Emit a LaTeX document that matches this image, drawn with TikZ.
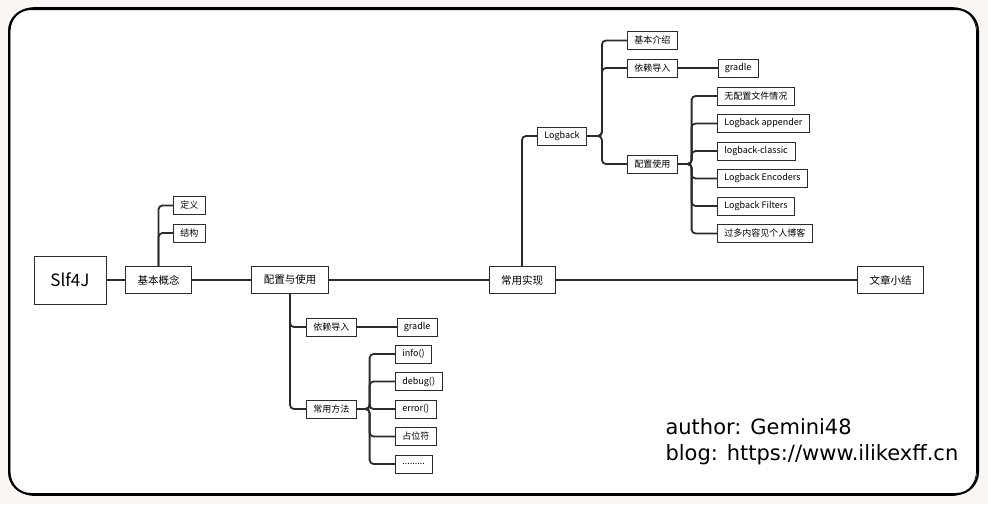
\documentclass[tikz,border=0pt]{standalone}
\usepackage{fontspec}
\setmainfont{Noto Sans CJK SC}
\newfontfamily\handfont{DejaVu Sans}
\usepackage{xcolor}
\usetikzlibrary{positioning}
\definecolor{paper}{HTML}{FAF6F4}
\definecolor{ink}{HTML}{2B2B2B}
\newcommand{\dotrow}{.........}

\begin{document}
\begin{tikzpicture}[x=1pt, y=-1pt,
  rbox/.style={rectangle, draw=ink, line width=1pt, fill=white, minimum width=72pt, minimum height=48pt, font=\fontsize{17}{20}\selectfont},
  mbox/.style={rectangle, draw=ink, line width=0.8pt, fill=white, minimum height=27pt, inner xsep=12pt, inner ysep=0pt, font=\fontsize{10.5}{12}\selectfont},
  sbox/.style={rectangle, draw=ink, line width=0.6pt, fill=white, minimum height=18pt, inner xsep=7pt, inner ysep=0pt, font=\fontsize{9}{10}\selectfont},
  conn/.style={draw=ink, line width=1.8pt, rounded corners=4pt},
  sig/.style={anchor=base west, font=\handfont\fontsize{21}{24}\selectfont}
]
% paper and frame
\fill[paper] (0,0) rectangle (988,504);
\fill[white, rounded corners=22pt] (9,9) rectangle (978,494);
\draw[line width=2pt, rounded corners=22pt] (9,9) rectangle (978,494);
\draw[line width=0.8pt, rounded corners=24pt] (10,7.5) rectangle (976.5,495.5);

% main row
\node[rbox] (root) at (70,280) {Slf4J};
\node[mbox] (a) at (158.5,280) {基本概念};
\node[mbox] (b) at (290,280) {配置与使用};
\node[mbox] (c) at (522,280) {常用实现};
\node[mbox] (d) at (890.5,280) {文章小结};
\draw[conn] (root) -- (a);
\draw[conn] (a) -- (b);
\draw[conn] (b) -- (c);
\draw[conn] (c) -- (d);

% 基本概念
\node[sbox, anchor=west] (a1) at (173,205.5) {定义};
\node[sbox, anchor=west] (a2) at (173,233) {结构};
\draw[conn] (a.north) |- (a1.west);
\draw[conn] (a.north) |- (a2.west);

% 配置与使用
\node[sbox, anchor=west] (b1) at (306,327) {依赖导入};
\node[sbox, right=40pt of b1] (b11) {gradle};
\node[sbox, anchor=west] (b2) at (306,409) {常用方法};
\draw[conn] (b.south) |- (b1.west);
\draw[conn] (b.south) |- (b2.west);
\draw[conn] (b1) -- (b11);
\foreach \name/\y/\txt in {m1/354/info(), m2/381.5/debug(), m3/409/error(), m4/436.5/占位符, m5/464/\dotrow}{
  \node[sbox, anchor=west] (\name) at (395,\y) {\txt};
  \draw[conn] (b2.east) -- ++(13,0) |- (\name.west);
}

% 常用实现
\node[sbox, anchor=west] (c1) at (537,136) {Logback};
\draw[conn] (c.north) |- (c1.west);
\node[sbox, anchor=west] (c11) at (627,40.5) {基本介绍};
\node[sbox, anchor=west] (c12) at (627,68) {依赖导入};
\node[sbox, right=40pt of c12] (c121) {gradle};
\node[sbox, anchor=west] (c13) at (627,164) {配置使用};
\foreach \name in {c11,c12,c13}{
  \draw[conn] (c1.east) -- ++(15,0) |- (\name.west);
}
\draw[conn] (c12) -- (c121);
\foreach \name/\y/\txt in {n1/96/无配置文件情况, n2/123.5/Logback appender, n3/151/logback-classic, n4/178.5/Logback Encoders, n5/206/Logback Filters, n6/233.5/过多内容见个人博客}{
  \node[sbox, anchor=west] (\name) at (717,\y) {\txt};
  \draw[conn] (c13.east) -- ++(14,0) |- (\name.west);
}

% signature
\node[sig] (au) at (662,434) {author: Gemini48};
\node[sig] (bl) at (662,460) {blog: https://www.ilikexff.cn};
\end{tikzpicture}
\end{document}
